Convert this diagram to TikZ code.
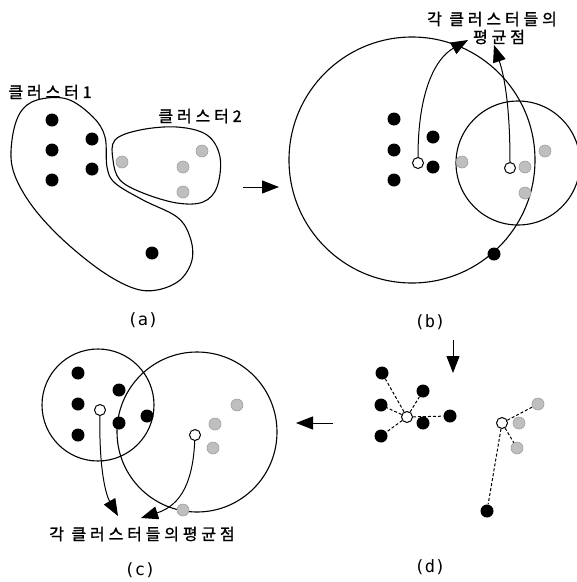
\documentclass[tikz,border=0pt]{standalone}
\usepackage{fontspec}
\newfontfamily\kfont[LetterSpace=24, FakeBold=1.3]{Noto Sans CJK KR}
\newfontfamily\capfont{DejaVu Sans Mono}
\usetikzlibrary{arrows.meta, positioning}

\begin{document}
\begin{tikzpicture}[x=1pt, y=-1pt,
    blk/.style={circle, fill=black, inner sep=0pt, minimum size=13pt},
    gry/.style={circle, fill=gray!50, draw=gray!75, line width=.6pt, inner sep=0pt, minimum size=12pt},
    ctr/.style={circle, draw, fill=white, line width=1pt, inner sep=0pt, minimum size=11pt},
    hull/.style={line width=1.1pt},
    link/.style={dash pattern=on 3pt off 2pt, line width=1pt},
    lbl/.style={font=\kfont\fontsize{16}{18}\selectfont, inner sep=0pt},
    subcap/.style={font=\capfont\fontsize{17}{19}\selectfont, inner sep=0pt},
    >={Triangle[length=17pt, width=13pt]}
  ]
  \useasboundingbox (0,0) rectangle (577,582);

  % (a) zwei Anfangscluster
  \draw[hull] plot[smooth cycle, tension=0.6] coordinates {(37,100) (67,99) (93,117) (105,137)
    (107,167) (115,183) (143,200) (177,217) (190,237) (192,260) (180,280) (157,290)
    (133,288) (100,270) (60,237) (30,203) (13,170) (12,140) (20,113)};
  \draw[hull] plot[smooth cycle, tension=0.6] coordinates {(115,140) (140,130) (177,127)
    (207,135) (220,157) (217,187) (203,202) (177,203) (143,193) (120,180) (113,160)};
  \node[lbl] (k1) at (50,92) {클러스터1};
  \node[lbl] (k2) at (200,116) {클러스터2};
  \node[blk] (a1) at (52,120) {};
  \node[blk] (a2) at (92,139) {};
  \node[blk] (a3) at (52,150) {};
  \node[blk] (a4) at (92,169) {};
  \node[blk] (a5) at (52,180) {};
  \node[blk] (a6) at (152,253) {};
  \node[gry] (ag1) at (122,162) {};
  \node[gry] (ag2) at (202,151) {};
  \node[gry] (ag3) at (183,167) {};
  \node[gry] (ag4) at (183,192) {};
  \node[subcap] (capa) at (143,320) {(a)};

  % Pfeil (a) -> (b)
  \coordinate (ab0) at (243,187);
  \coordinate (ab1) at (279,187);
  \draw[->, line width=1pt] (ab0) -- (ab1);

  % (b) Mittelpunkte und Radien
  \draw[hull] (412,160) circle[radius=123];
  \draw[hull] (518,163) circle[radius=62];
  \node[lbl] (mtop1) at (492,19) {각 클러스터들의};
  \node[lbl] (mtop2) at (499,37) {평균점};
  \node[blk] (b1) at (394,119) {};
  \node[blk] (b2) at (394,150) {};
  \node[blk] (b3) at (394,180) {};
  \node[blk] (b4) at (433,137) {};
  \node[blk] (b5) at (433,167) {};
  \node[blk] (b6) at (494,254) {};
  \node[gry] (bg1) at (462,162) {};
  \node[gry] (bg2) at (525,167) {};
  \node[gry] (bg3) at (525,193) {};
  \node[gry] (bg4) at (545,151) {};
  \node[ctr] (wb1) at (418,163) {};
  \node[ctr] (wb2) at (510,168) {};
  \coordinate (tb1) at (468,40);
  \coordinate (tb2) at (494,45);
  \draw[->, line width=1pt] (wb1) .. controls (418,90) and (436,58) .. (tb1);
  \draw[->, line width=1pt] (wb2) .. controls (510,100) and (503,72) .. (tb2);
  \node[subcap] (capb) at (430,322) {(b)};

  % Pfeil (b) -> (d)
  \coordinate (bd0) at (453,340);
  \coordinate (bd1) at (453,373);
  \draw[->, line width=1pt] (bd0) -- (bd1);

  % (d) Zuordnung zum naechsten Mittelpunkt
  \node[blk] (d1) at (382,373) {};
  \node[blk] (d2) at (423,391) {};
  \node[blk] (d3) at (381,405) {};
  \node[blk] (d4) at (423,423) {};
  \node[blk] (d5) at (450,416) {};
  \node[blk] (d6) at (381,436) {};
  \node[blk] (d7) at (487,511) {};
  \node[gry] (dg1) at (538,404) {};
  \node[gry] (dg2) at (519,423) {};
  \node[gry] (dg3) at (517,448) {};
  \node[ctr] (wd1) at (407,417) {};
  \node[ctr] (wd2) at (502,423) {};
  \draw[link] (wd1) -- (d1);
  \draw[link] (wd1) -- (d2);
  \draw[link] (wd1) -- (d3);
  \draw[link] (wd1) -- (d5);
  \draw[link] (wd1) -- (d6);
  \draw[link] (wd2) -- (dg1);
  \draw[link] (wd2) -- (dg3);
  \draw[link] (wd2) -- (d7);
  \node[subcap] (capd) at (430,567) {(d)};

  % Pfeil (d) -> (c)
  \coordinate (dc0) at (333,423);
  \coordinate (dc1) at (296,423);
  \draw[->, line width=1pt] (dc0) -- (dc1);

  % (c) neue Cluster
  \draw[hull] (98,405) circle[radius=56];
  \draw[hull] (197,432) circle[radius=80];
  \node[blk] (c1) at (78,373) {};
  \node[blk] (c2) at (78,404) {};
  \node[blk] (c3) at (78,435) {};
  \node[blk] (c4) at (119,390) {};
  \node[blk] (c5) at (119,423) {};
  \node[blk] (c6) at (147,416) {};
  \node[gry] (cg1) at (237,405) {};
  \node[gry] (cg2) at (215,424) {};
  \node[gry] (cg3) at (213,448) {};
  \node[gry] (cg4) at (183,510) {};
  \node[ctr] (wc1) at (100,410) {};
  \node[ctr] (wc2) at (195,435) {};
  \coordinate (tc1) at (118,516);
  \coordinate (tc2) at (141,518);
  \draw[->, line width=1pt] (wc1) .. controls (99,470) and (106,495) .. (tc1);
  \draw[->, line width=1pt] (wc2) .. controls (193,480) and (182,505) .. (tc2);
  \node[lbl] (mbot) at (142,534) {각 클러스터들의평균점};
  \node[subcap] (capc) at (140,570) {(c)};
\end{tikzpicture}
\end{document}
